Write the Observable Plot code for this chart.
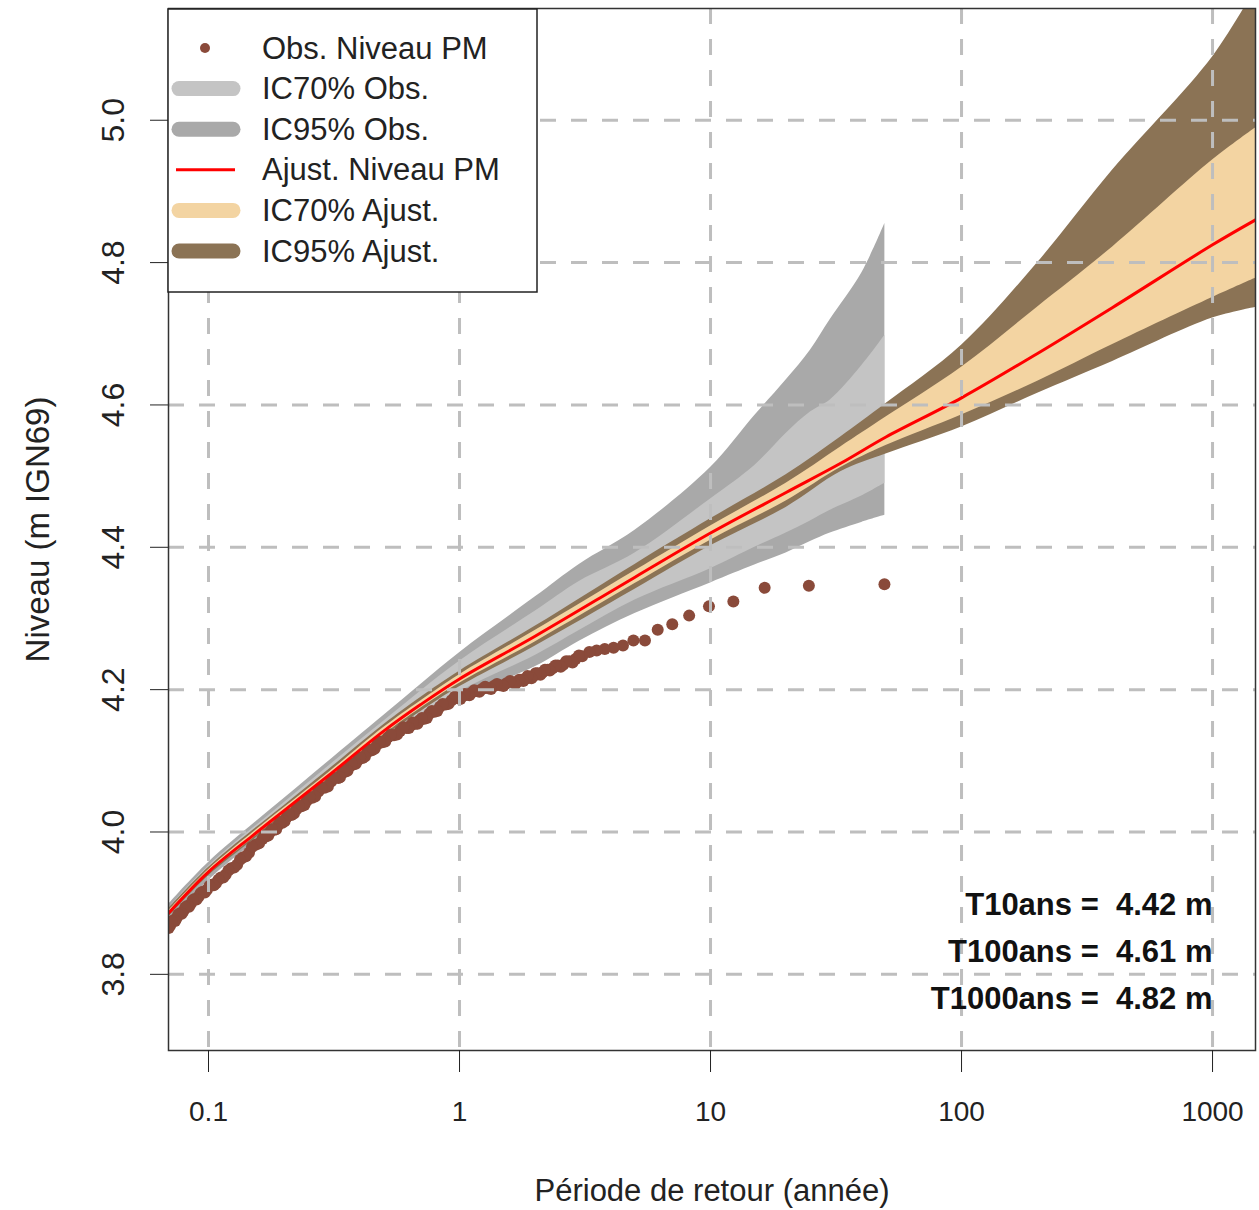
<!DOCTYPE html>
<html><head><meta charset="utf-8">
<script src="https://cdn.jsdelivr.net/npm/d3@7"></script>
<script src="https://cdn.jsdelivr.net/npm/@observablehq/plot@0.6"></script>
<style>
body{margin:0;background:#fff;}
svg{font-family:"Liberation Sans",Arial,sans-serif;}
</style>
</head><body><div id="chart"></div>
<script>
// Observed levels (return period in years, level in m IGN69) - main ranks
const obsT = [49.3, 24.65, 16.43, 12.33, 9.86, 8.22, 7.04, 6.16, 5.48, 4.93, 4.48, 4.11, 3.79, 3.52, 3.29, 3.08,
  2.90, 2.74, 2.59, 2.465, 2.35, 2.24, 2.14, 2.05, 1.97, 1.90, 1.83, 1.76, 1.70, 1.64,
  1.54, 1.45, 1.37, 1.30, 1.23, 1.17, 1.12, 1.07, 1.03, 0.986,
  0.930, 0.880, 0.836, 0.795, 0.758, 0.725, 0.694, 0.666, 0.640, 0.616,
  0.580, 0.548, 0.519, 0.493, 0.470, 0.448, 0.429, 0.411, 0.394, 0.379, 0.365, 0.352, 0.340, 0.329,
  0.308, 0.290, 0.274, 0.259, 0.2465, 0.235, 0.224, 0.214, 0.205, 0.197, 0.190, 0.183, 0.176, 0.170, 0.164,
  0.154, 0.145, 0.137, 0.130, 0.123, 0.117, 0.112, 0.107, 0.103, 0.0986, 0.0948, 0.0913, 0.0880, 0.0850, 0.0822, 0.0795, 0.0770, 0.0747, 0.0725, 0.0704];
const obsLevel = [4.348, 4.346, 4.343, 4.324, 4.317, 4.304, 4.292, 4.284, 4.269, 4.269, 4.262, 4.259, 4.257, 4.255, 4.253, 4.247,
  4.243, 4.240, 4.235, 4.234, 4.230, 4.228, 4.224, 4.223, 4.219, 4.218, 4.215, 4.214, 4.211, 4.210,
  4.209, 4.206, 4.205, 4.202, 4.201, 4.198, 4.196, 4.193, 4.191, 4.188,
  4.185, 4.179, 4.176, 4.169, 4.166, 4.159, 4.157, 4.152, 4.150, 4.146,
  4.142, 4.136, 4.133, 4.126, 4.123, 4.115, 4.112, 4.104, 4.101, 4.095, 4.092, 4.085, 4.082, 4.076,
  4.071, 4.062, 4.057, 4.048, 4.044, 4.036, 4.032, 4.024, 4.021, 4.013, 4.010, 4.003, 4.000, 3.994, 3.990,
  3.982, 3.971, 3.964, 3.954, 3.949, 3.940, 3.936, 3.928, 3.926, 3.919, 3.916, 3.909, 3.906, 3.899, 3.896, 3.889, 3.886, 3.879, 3.876, 3.869];
// Observed levels - further ranks in the dense part of the sample
const obsT2 = [2.99, 2.82, 2.66, 2.53, 2.41, 2.29, 2.19, 2.10, 2.01, 1.935, 1.865, 1.795, 1.73, 1.67, 1.59, 1.495, 1.41, 1.335, 1.265, 1.20,
  1.145, 1.095, 1.05, 1.008, 0.958, 0.905, 0.858, 0.815, 0.776, 0.741, 0.709, 0.680, 0.653, 0.628, 0.598, 0.564, 0.533, 0.506, 0.481, 0.459,
  0.438, 0.420, 0.402, 0.386, 0.372, 0.358, 0.346, 0.334, 0.318, 0.299, 0.282, 0.266, 0.253, 0.241, 0.229, 0.219, 0.209, 0.201, 0.193, 0.186,
  0.179, 0.173, 0.167, 0.159, 0.149, 0.141, 0.1335, 0.1265, 0.120, 0.1145, 0.1095, 0.105, 0.1008, 0.0967, 0.0930, 0.0896, 0.0865, 0.0836, 0.0808, 0.0782,
  0.0758, 0.0736, 0.0714, 0.0694];
const obsLevel2 = [4.248, 4.238, 4.240, 4.232, 4.234, 4.227, 4.228, 4.221, 4.223, 4.216, 4.219, 4.212, 4.214, 4.208, 4.212, 4.205, 4.208, 4.201, 4.204, 4.197,
  4.199, 4.192, 4.194, 4.187, 4.190, 4.180, 4.180, 4.170, 4.170, 4.160, 4.160, 4.152, 4.154, 4.146, 4.147, 4.137, 4.137, 4.127, 4.127, 4.117,
  4.116, 4.106, 4.105, 4.096, 4.096, 4.086, 4.086, 4.077, 4.076, 4.064, 4.062, 4.050, 4.049, 4.038, 4.037, 4.026, 4.025, 4.015, 4.014, 4.004,
  4.004, 3.995, 3.995, 3.984, 3.979, 3.966, 3.961, 3.950, 3.946, 3.936, 3.933, 3.925, 3.924, 3.915, 3.914, 3.905, 3.904, 3.895, 3.894, 3.885,
  3.884, 3.875, 3.874, 3.865];

// Empirical confidence intervals of observations
const obsBandT = [0.0693, 0.1, 0.2, 0.5, 1, 2, 3, 5, 10, 15, 20, 25, 30, 40, 49.5];
const obs95High = [3.898, 3.957, 4.047, 4.164, 4.252, 4.330, 4.376, 4.424, 4.512, 4.585, 4.635, 4.677, 4.720, 4.785, 4.855];
const obs70High = [3.893, 3.952, 4.041, 4.156, 4.240, 4.310, 4.352, 4.392, 4.468, 4.515, 4.560, 4.590, 4.607, 4.655, 4.698];
const obs70Low  = [3.880, 3.938, 4.025, 4.132, 4.197, 4.248, 4.283, 4.326, 4.370, 4.400, 4.420, 4.437, 4.452, 4.472, 4.490];
const obs95Low  = [3.874, 3.932, 4.018, 4.125, 4.187, 4.232, 4.268, 4.307, 4.350, 4.375, 4.392, 4.408, 4.420, 4.435, 4.445];

// Fitted distribution and its confidence intervals
const fitT = [0.0693, 0.1, 0.15, 0.2, 0.3, 0.5, 0.7, 1, 2, 5, 10, 20, 33, 50, 100, 200, 400, 1000, 1483];
const fitLevel = [3.886, 3.944, 3.995, 4.030, 4.079, 4.142, 4.179, 4.215, 4.275, 4.358, 4.420, 4.477, 4.518, 4.555, 4.610, 4.672, 4.737, 4.825, 4.860];
const fit95Low  = [3.880, 3.938, 3.988, 4.023, 4.071, 4.133, 4.169, 4.204, 4.261, 4.341, 4.402, 4.456, 4.506, 4.531, 4.569, 4.616, 4.661, 4.722, 4.737];
const fit95High = [3.892, 3.950, 4.002, 4.037, 4.087, 4.151, 4.189, 4.226, 4.289, 4.376, 4.440, 4.502, 4.555, 4.602, 4.684, 4.799, 4.930, 5.089, 5.185];
const fit70Low  = [3.883, 3.941, 3.991, 4.026, 4.075, 4.137, 4.174, 4.209, 4.267, 4.349, 4.410, 4.465, 4.512, 4.543, 4.586, 4.633, 4.685, 4.751, 4.778];
const fit70High = [3.889, 3.947, 3.999, 4.034, 4.083, 4.147, 4.184, 4.221, 4.283, 4.367, 4.430, 4.490, 4.541, 4.583, 4.653, 4.737, 4.822, 4.944, 4.989];

const xTicks = [0.1, 1, 10, 100, 1000];
const yTicks = [3.8, 4.0, 4.2, 4.4, 4.6, 4.8, 5.0];
const summaryT = [10, 100, 1000];
const summaryLevel = [4.42, 4.61, 4.82];

const legendLabels = ["Obs. Niveau PM", "IC70% Obs.", "IC95% Obs.", "Ajust. Niveau PM", "IC70% Ajust.", "IC95% Ajust."];
const legendKinds = ["dot", "band", "band", "line", "band", "band"];

const C = {obs: "#8A4A3A", o70: "#C4C4C4", o95: "#A9A9A9", fit: "#FF0000", f70: "#F3D4A2", f95: "#8B7355", grid: "#BEBEBE"};
const legendColors = [C.obs, C.o70, C.o95, C.fit, C.f70, C.f95];

const obs = obsT.map((t, i) => ({t, level: obsLevel[i]}))
  .concat(obsT2.map((t, i) => ({t, level: obsLevel2[i]})));
const obsBand = obsBandT.map((t, i) => ({t, lo95: obs95Low[i], hi95: obs95High[i], lo70: obs70Low[i], hi70: obs70High[i]}));
const fit = fitT.map((t, i) => ({t, level: fitLevel[i], lo95: fit95Low[i], hi95: fit95High[i], lo70: fit70Low[i], hi70: fit70High[i]}));
const summary = summaryT.map((t, i) => ({t, level: summaryLevel[i]}));

const gridStyle = {stroke: C.grid, strokeWidth: 3, strokeDasharray: "16,15"};
const curve = "catmull-rom";

const plot = Plot.plot({
  width: 1259, height: 1210,
  marginLeft: 168, marginRight: 4, marginTop: 8, marginBottom: 160,
  x: {type: "log", domain: [0.06928, 1483]},
  y: {domain: [3.693, 5.157]},
  style: {fontFamily: '"Liberation Sans", Arial, sans-serif', background: "white", color: "#222"},
  marks: [
    Plot.areaY(obsBand, {x: "t", y1: "lo95", y2: "hi95", fill: C.o95, curve, clip: true}),
    Plot.areaY(obsBand, {x: "t", y1: "lo70", y2: "hi70", fill: C.o70, curve, clip: true}),
    Plot.areaY(fit, {x: "t", y1: "lo95", y2: "hi95", fill: C.f95, curve, clip: true}),
    Plot.areaY(fit, {x: "t", y1: "lo70", y2: "hi70", fill: C.f70, curve, clip: true}),
    Plot.dot(obs, {x: "t", y: "level", r: 6, fill: C.obs, clip: true}),
    Plot.line(fit, {x: "t", y: "level", stroke: C.fit, strokeWidth: 3, curve, clip: true}),
    Plot.ruleX(xTicks, gridStyle),
    Plot.ruleY(yTicks, gridStyle),
    Plot.frame({stroke: "#333", strokeWidth: 1.5}),
    Plot.axisX(xTicks, {tickSize: 22, tickPadding: 29, fontSize: 28, tickFormat: d => String(d), label: null}),
    Plot.axisY(yTicks, {tickSize: 18, tickFormat: () => "", label: null}),
    Plot.text(yTicks, {y: d => d, frameAnchor: "left", dx: -55, rotate: -90, textAnchor: "middle", text: d => d.toFixed(1), fontSize: 32, fill: "#222"}),
    Plot.text(["Niveau (m IGN69)"], {frameAnchor: "left", dx: -130, rotate: -90, textAnchor: "middle", fontSize: 33, fill: "#222"}),
    Plot.text(["Période de retour (année)"], {frameAnchor: "bottom", dy: 150, textAnchor: "middle", fontSize: 31, fill: "#222"}),
    ...summary.map((s, i) => Plot.text([s], {
      frameAnchor: "bottom-right", dx: -43, dy: -136 + 47 * i, textAnchor: "end",
      fontWeight: "bold", fontSize: 31, fill: "#111",
      text: d => `T${d.t}ans =  ${d.level.toFixed(2)} m`
    }))
  ]
});

document.getElementById("chart").appendChild(plot);

// keep double spaces in the summary texts
d3.select(plot).selectAll("text").style("white-space", "pre");

// Legend box (top-left, inside the plot area)
const svg = d3.select(plot);
const lg = svg.append("g").attr("text-anchor", "start");
lg.append("rect").attr("x", 168).attr("y", 9).attr("width", 369).attr("height", 283)
  .attr("fill", "white").attr("stroke", "#222").attr("stroke-width", 1.5);
legendLabels.forEach((lab, i) => {
  const y = 48 + 40.6 * i;
  const kind = legendKinds[i];
  if (kind === "dot") {
    lg.append("circle").attr("cx", 205).attr("cy", y).attr("r", 5).attr("fill", legendColors[i]);
  } else if (kind === "band") {
    lg.append("line").attr("x1", 179).attr("x2", 233).attr("y1", y).attr("y2", y)
      .attr("stroke", legendColors[i]).attr("stroke-width", 15).attr("stroke-linecap", "round");
  } else {
    lg.append("line").attr("x1", 176).attr("x2", 235).attr("y1", y).attr("y2", y)
      .attr("stroke", legendColors[i]).attr("stroke-width", 3);
  }
  lg.append("text").attr("x", 262).attr("y", y).attr("dominant-baseline", "central")
    .attr("text-anchor", "start").attr("font-size", 31).attr("fill", "#222").text(lab);
});
</script>
</body></html>
